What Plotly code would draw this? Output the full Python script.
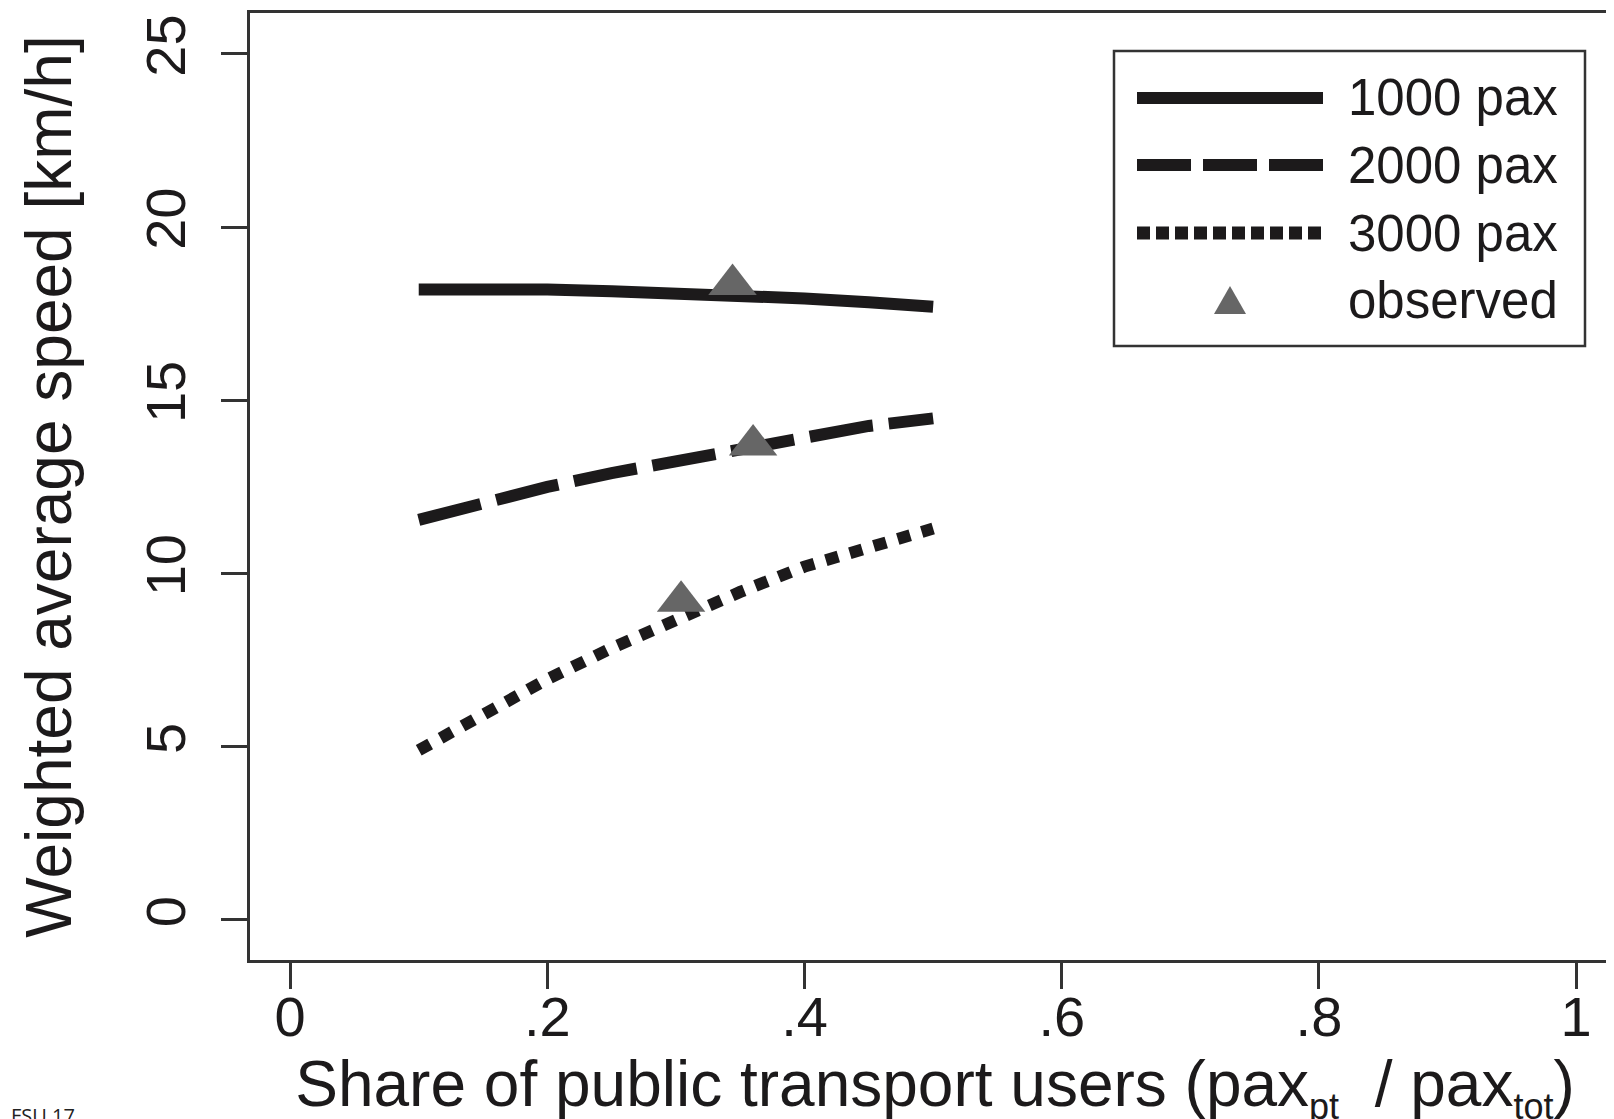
import plotly.graph_objects as go

# ---- data ----
share = [0.10, 0.15, 0.20, 0.25, 0.30, 0.35, 0.40, 0.45, 0.50]
speed_1000 = [18.20, 18.22, 18.20, 18.15, 18.10, 18.03, 17.94, 17.83, 17.70]
speed_2000 = [11.55, 12.05, 12.50, 12.90, 13.25, 13.60, 13.98, 14.26, 14.48]
speed_3000 = [4.90, 5.95, 6.95, 7.85, 8.68, 9.47, 10.20, 10.78, 11.30]
obs_share = [0.344, 0.360, 0.304]
obs_speed = [18.34, 13.71, 9.20]
x_tickvals = [0, 0.2, 0.4, 0.6, 0.8, 1]
x_ticktext = ["0", ".2", ".4", ".6", ".8", "1"]
y_tickvals = [0, 5, 10, 15, 20, 25]
y_ticktext = ["0", "5", "10", "15", "20", "25"]
legend_labels = ["1000 pax", "2000 pax", "3000 pax", "observed"]

W, H = 1614, 1119
ML, MR, MT, MB = 242, 2, 5, 167
PW, PH = W - ML - MR, H - MT - MB
FONT = "Liberation Sans, Arial, Helvetica, sans-serif"
INK = "#1c1a1b"
FRAME = "#333333"
GREY = "#666666"


def px(x):
    return (x - ML) / PW


def py(y):
    return (H - MB - y) / PH


fig = go.Figure()
fig.add_trace(go.Scatter(x=share, y=speed_1000, mode="lines",
                         line=dict(color=INK, width=12), showlegend=False))
fig.add_trace(go.Scatter(x=share, y=speed_2000, mode="lines",
                         line=dict(color=INK, width=12, dash="64px,16px"), showlegend=False))
fig.add_trace(go.Scatter(x=share, y=speed_3000, mode="lines",
                         line=dict(color=INK, width=12, dash="13px,12px"), showlegend=False))
fig.add_trace(go.Scatter(x=obs_share, y=obs_speed, mode="markers",
                         marker=dict(symbol="triangle-up", size=42, color=GREY,
                                     line=dict(width=0)), showlegend=False))

# ---- hand-drawn legend box (R-style) ----
shapes = [dict(type="rect", xref="paper", yref="paper",
               x0=px(1106), x1=px(1577), y0=py(338), y1=py(43),
               line=dict(color=FRAME, width=2.5), fillcolor="white", layer="above")]
rows = [90, 157, 225, 292]
styles = [("solid", 12), ("54px,12px", 12), ("13px,6px", 13)]
for r, (d, w) in zip(rows[:3], styles):
    shapes.append(dict(type="line", xref="paper", yref="paper",
                       x0=px(1129), x1=px(1315), y0=py(r), y1=py(r),
                       line=dict(color=INK, width=w, dash=d), layer="above"))
# triangle symbol for "observed"
cx, cy, hw, hh = 1222, rows[3], 16, 14
shapes.append(dict(type="path", xref="paper", yref="paper",
                   path=f"M {px(cx-hw)},{py(cy+hh)} L {px(cx+hw)},{py(cy+hh)} L {px(cx)},{py(cy-hh)} Z",
                   fillcolor=GREY, line=dict(width=0), layer="above"))

annotations = []
for r, lab in zip(rows, legend_labels):
    annotations.append(dict(xref="paper", yref="paper", x=px(1338), y=py(r),
                            text=lab, showarrow=False, xanchor="left", yanchor="middle",
                            font=dict(family=FONT, size=51, color=INK)))
annotations.append(dict(xref="paper", yref="paper", x=px(1), y=py(1107),
                        text="FSU 17", showarrow=False, xanchor="left", yanchor="middle",
                        font=dict(family="Open Sans, Noto Sans, sans-serif", size=20, color="#222")))

sub = '<sub><span style="font-size:36px">{}</span></sub>'
xtitle = ("Share of public transport users (pax" + sub.format("pt")
          + "&nbsp;&nbsp;/&nbsp;pax" + sub.format("tot") + ")")

fig.update_layout(
    width=W, height=H,
    margin=dict(l=ML, r=MR, t=MT, b=MB, pad=0, autoexpand=False),
    paper_bgcolor="white", plot_bgcolor="white",
    font=dict(family=FONT, color=INK),
    shapes=shapes, annotations=annotations,
    showlegend=False,
)
fig.update_xaxes(range=[-0.0312, 1.0341], tickvals=x_tickvals, ticktext=x_ticktext,
                 automargin=False,
                 showgrid=False, zeroline=False, showline=True, mirror=True,
                 linecolor=FRAME, linewidth=3, ticks="outside", ticklen=26, tickwidth=2.5,
                 tickcolor=FRAME, tickfont=dict(size=56, family=FONT, color=INK),
                 ticklabelstandoff=-20,
                 title=dict(text=xtitle,
                            font=dict(size=64, family=FONT, color=INK), standoff=18))
fig.update_yaxes(range=[-1.155, 26.18], tickvals=y_tickvals, ticktext=y_ticktext,
                 automargin=False,
                 showgrid=False, zeroline=False, showline=True, mirror=True,
                 linecolor=FRAME, linewidth=3, ticks="outside", ticklen=26, tickwidth=2.5,
                 tickcolor=FRAME, tickangle=-90, tickfont=dict(size=56, family=FONT, color=INK),
                 ticklabelstandoff=14,
                 title=dict(text="Weighted average speed [km/h]",
                            font=dict(size=64, family=FONT, color=INK), standoff=42))

fig.write_html("out.html")
